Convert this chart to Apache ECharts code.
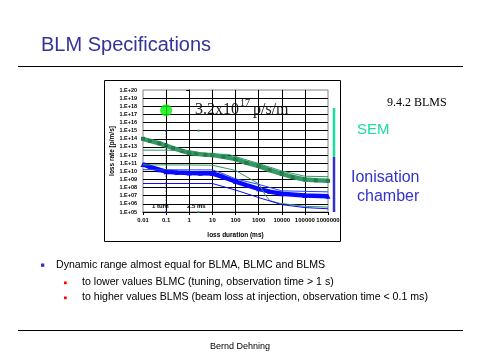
<!DOCTYPE html>
<html><head><meta charset="utf-8">
<script src="https://cdn.jsdelivr.net/npm/echarts@6/dist/echarts.min.js"></script>
<style>html,body{margin:0;padding:0;background:#fff}#c{width:482px;height:362px}</style>
</head><body><div id="c"></div>
<script>
// ---- tick labels ----
const xTickLabels = ['0.01','0.1','1','10','100','1000','10000','100000','1000000'];
const yTickLabels = ['1.E+05','1.E+06','1.E+07','1.E+08','1.E+09','1.E+10','1.E+11','1.E+12','1.E+13','1.E+14','1.E+15','1.E+16','1.E+17','1.E+18','1.E+19','1.E+20'];

// ---- SEM (green) ----
const semBandX = [0.01,0.02,0.05,0.1,0.2,0.5,1,2,5,10,30,100,300,1000,3000,10000,30000,100000,300000,1000000];
const semBandY = [1e14,5.6e13,2.8e13,1.4e13,7e12,3.2e12,1.8e12,1.4e12,1.1e12,1e12,6.3e11,3.2e11,1.1e11,4.5e10,1.4e10,4.8e9,2e9,1e9,8e8,6.8e8];
const semUpperX = [0.01,0.1,1,3];
const semUpperY = [4e12,4e12,3.5e12,2e12];
const semEdgeX = [10,50,1000,10000,100000,1000000];
const semEdgeY = [1.3e12,1.2e12,9e10,1.1e10,2.5e9,2.2e9];
const semLowX = [0.01,1,10,100,1000,2000,3000,8000,100000,1000000];
const semLowY = [6.3e10,6e10,5.6e10,1.3e10,3e8,1.1e7,2.5e6,1.2e6,5e5,4e5];

// ---- Ionisation chamber (blue) ----
const icBandX = [0.01,0.02,0.05,0.1,0.3,1,3,10,30,100,300,1000,3000,10000,100000,1000000];
const icBandY = [7e10,3.5e10,1.6e10,9e9,7e9,6.3e9,6e9,5.4e9,2e9,5.6e8,2e8,7e7,3.2e7,1.8e7,1.1e7,8.5e6];
const icUpperX = [0.01,10,30,100,1000,10000,1000000];
const icUpperY = [1.6e10,1.5e10,5e9,1.2e9,2.5e8,4e7,3e7];
const icLowX = [0.01,10,100,1000,10000,100000,1000000];
const icLowY = [3.2e8,3.2e8,5e7,6e6,8e5,3.5e5,2.5e5];

// ---- markers ----
const turnX = [0.1, 0.1];          // 1 turn
const turnY = [1e15, 1e5];
const msX = [2.5, 2.5];            // 2.5 ms
const msY = [1e15, 1e5];
const specPoint = [0.1, 3.2e17];   // 3.2x10^17 p/s/m

const L = Math.log10;
const pts = (xs, ys) => xs.map((x, i) => [L(x), L(ys[i])]);

const GREEN = '#339966', BLUE = '#0a0aff';
const thin = (name, xs, ys, color) => ({
  name, type: 'line', data: pts(xs, ys), symbol: 'none',
  lineStyle: { color, width: 1 }, z: 4
});

const chart = echarts.init(document.getElementById('c'), null, { renderer: 'canvas' });

chart.setOption({
  animation: false,
  backgroundColor: '#fff',
  grid: { left: 143, top: 90, width: 185, height: 122, show: true,
          borderColor: '#808080', borderWidth: 1, backgroundColor: 'transparent' },
  xAxis: {
    type: 'value', min: -2, max: 6, interval: 1,
    name: 'loss duration (ms)', nameLocation: 'middle', nameGap: 20,
    nameTextStyle: { fontSize: 6.5, fontWeight: 'bold', color: '#000', fontFamily: 'Liberation Sans' },
    axisLine: { lineStyle: { color: '#000', width: 1 } },
    axisTick: { show: true, length: 3, lineStyle: { color: '#000' } },
    axisLabel: { fontSize: 6, fontWeight: 'bold', color: '#000', margin: 5, fontFamily: 'Liberation Sans',
                 formatter: (v) => xTickLabels[Math.round(v) + 2] },
    splitLine: { show: true, showMinLine: false, showMaxLine: false, lineStyle: { color: '#000', width: 1 } }
  },
  yAxis: {
    type: 'value', min: 5, max: 20, interval: 1,
    name: 'loss rate [p/m/s]', nameLocation: 'middle', nameGap: 27, nameRotate: 90,
    nameTextStyle: { fontSize: 6.5, fontWeight: 'bold', color: '#000', fontFamily: 'Liberation Sans' },
    axisLine: { show: true, lineStyle: { color: '#000', width: 1 } },
    axisTick: { show: true, length: 3, lineStyle: { color: '#000' } },
    axisLabel: { fontSize: 5.5, fontWeight: 'bold', color: '#000', margin: 6, fontFamily: 'Liberation Sans',
                 formatter: (v) => yTickLabels[Math.round(v) - 5] },
    splitLine: { show: true, showMinLine: false, showMaxLine: false, lineStyle: { color: '#000', width: 1 } }
  },
  series: [
    { name: 'SEM', type: 'line', data: pts(semBandX, semBandY), symbol: 'rect', symbolSize: 4,
      itemStyle: { color: '#2a7a48' }, lineStyle: { color: GREEN, width: 4.5 }, z: 3 },
    { name: 'Ionisation chamber', type: 'line', data: pts(icBandX, icBandY), symbol: 'triangle', symbolSize: 5,
      itemStyle: { color: BLUE }, lineStyle: { color: BLUE, width: 4.5 }, z: 3 },
    thin('semUpper', semUpperX, semUpperY, GREEN),
    thin('semEdge', semEdgeX, semEdgeY, GREEN),
    thin('semLow', semLowX, semLowY, GREEN),
    thin('icUpper', icUpperX, icUpperY, '#2244ff'),
    thin('icLow', icLowX, icLowY, BLUE),
    { name: '1 turn', type: 'line', data: pts(turnX, turnY), symbol: 'circle', symbolSize: 2,
      itemStyle: { color: BLUE }, lineStyle: { color: '#000', width: 1, type: [1, 2] }, z: 5 },
    { name: '2.5 ms', type: 'scatter', data: pts(msX, msY), symbol: 'rect', symbolSize: 2,
      itemStyle: { color: '#199999' }, z: 5 },
    { name: 'spec', type: 'scatter', data: [[L(specPoint[0]), L(specPoint[1])]], symbol: 'circle', symbolSize: 12,
      itemStyle: { color: '#00ee00' }, z: 6 }
  ],
  graphic: [
    { type: 'text', x: 41, y: 45, style: { text: 'BLM Specifications', font: '20px "Liberation Sans"', fill: '#333399', verticalAlign: 'middle' } },
    { type: 'line', shape: { x1: 18, y1: 66.5, x2: 463, y2: 66.5 }, style: { stroke: '#000', lineWidth: 1 } },
    { type: 'rect', shape: { x: 104.5, y: 80.5, width: 236, height: 161 }, style: { stroke: '#000', fill: 'none', lineWidth: 1 } },
    { type: 'line', shape: { x1: 334, y1: 108, x2: 334, y2: 157 }, style: { stroke: '#19dca0', lineWidth: 2.5 } },
    { type: 'line', shape: { x1: 334, y1: 157, x2: 334, y2: 212 }, style: { stroke: '#3333cc', lineWidth: 2.5 } },
    { type: 'text', x: 195, y: 109.5, style: { text: '3.2x10', font: '16px "Liberation Serif"', fill: '#222', verticalAlign: 'middle' } },
    { type: 'text', x: 240, y: 103.5, style: { text: '17', font: '10px "Liberation Serif"', fill: '#222', verticalAlign: 'middle' } },
    { type: 'text', x: 253, y: 109.5, style: { text: 'p/s/m', font: '16px "Liberation Serif"', fill: '#222', verticalAlign: 'middle' } },
    { type: 'text', x: 152, y: 206, style: { text: '1 turn', font: 'bold 6px "Liberation Sans"', fill: '#000', verticalAlign: 'middle' } },
    { type: 'text', x: 187, y: 206, style: { text: '2.5 ms', font: 'bold 6px "Liberation Sans"', fill: '#000', verticalAlign: 'middle' } },
    { type: 'text', x: 387, y: 103, style: { text: '9.4.2 BLMS', font: '12px "Liberation Serif"', fill: '#000', verticalAlign: 'middle' } },
    { type: 'text', x: 357, y: 130, style: { text: 'SEM', font: '15px "Liberation Sans"', fill: '#19dca0', verticalAlign: 'middle' } },
    { type: 'text', x: 351, y: 178, style: { text: 'Ionisation', font: '16px "Liberation Sans"', fill: '#3333cc', verticalAlign: 'middle' } },
    { type: 'text', x: 357, y: 197, style: { text: 'chamber', font: '16px "Liberation Sans"', fill: '#3333cc', verticalAlign: 'middle' } },
    { type: 'rect', shape: { x: 41, y: 263.5, width: 3.3, height: 3.3 }, style: { fill: '#3333cc' } },
    { type: 'text', x: 56, y: 265, style: { text: 'Dynamic range almost equal for BLMA, BLMC and BLMS', font: '10.6px "Liberation Sans"', fill: '#000', verticalAlign: 'middle' } },
    { type: 'rect', shape: { x: 64, y: 281.5, width: 2.7, height: 2.7 }, style: { fill: '#ff0000' } },
    { type: 'text', x: 82, y: 282.5, style: { text: 'to lower values BLMC (tuning, observation time > 1 s)', font: '10.6px "Liberation Sans"', fill: '#000', verticalAlign: 'middle' } },
    { type: 'rect', shape: { x: 64, y: 296.5, width: 2.7, height: 2.7 }, style: { fill: '#ff0000' } },
    { type: 'text', x: 82, y: 297.5, style: { text: 'to higher values BLMS (beam loss at injection, observation time < 0.1 ms)', font: '10.6px "Liberation Sans"', fill: '#000', verticalAlign: 'middle' } },
    { type: 'line', shape: { x1: 18, y1: 330.5, x2: 463, y2: 330.5 }, style: { stroke: '#000', lineWidth: 1 } },
    { type: 'text', x: 240, y: 347, style: { text: 'Bernd Dehning', font: '9px "Liberation Sans"', fill: '#000', align: 'center', verticalAlign: 'middle' } }
  ]
});
</script></body></html>
